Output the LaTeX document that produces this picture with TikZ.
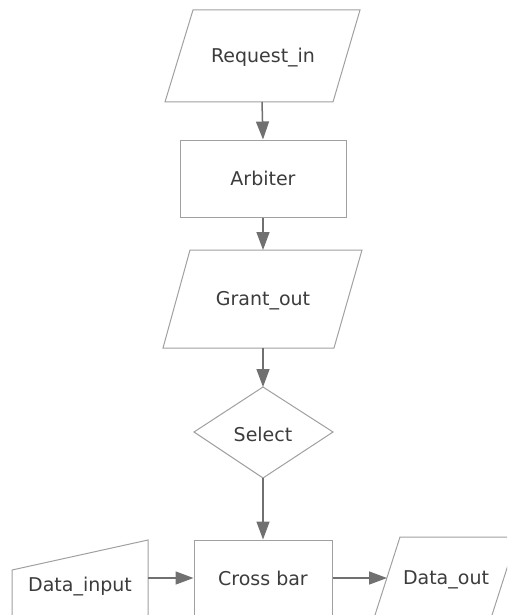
\documentclass[tikz,border=0pt]{standalone}
\usepackage{fontspec}
\setmainfont{DejaVu Sans}
\usetikzlibrary{arrows.meta}
\definecolor{shapegray}{HTML}{A0A0A0}
\definecolor{arrowgray}{HTML}{707070}
\definecolor{textgray}{HTML}{3C3C3C}
\begin{document}
\begin{tikzpicture}[x=1pt,y=-1pt,
  shp/.style={draw=shapegray,line width=1pt,line join=miter},
  lbl/.style={text=textgray,font=\fontsize{19}{22}\selectfont,inner sep=0pt},
  arr/.style={draw=arrowgray,line width=1.5pt,-{Triangle[length=18pt,width=13pt]}}]
\useasboundingbox (0,0) rectangle (507,615);
\clip (0,0) rectangle (507,615);
% Request_in
\draw[shp] (193,10) -- (360,10) -- (333,102) -- (165,102) -- cycle;
\node[lbl] (req) at (263,58) {Request\_in};
\coordinate (reqb) at (262,102);
% Arbiter
\node[shp,lbl,minimum width=166pt,minimum height=77pt] (arb) at (263,178.5) {Arbiter};
% Grant_out
\draw[shp] (190,250) -- (362,250) -- (334,348) -- (163,348) -- cycle;
\node[lbl] (gnt) at (263,301) {Grant\_out};
\coordinate (gntt) at (263,250);
\coordinate (gntb) at (263,348);
% Select
\coordinate (selt) at (263,387);
\coordinate (selb) at (263,478);
\draw[shp] (selt) -- (333,432) -- (selb) -- (194,432) -- cycle;
\node[lbl] (sel) at (263,434) {Select};
% Cross bar
\node[shp,lbl,minimum width=138pt,minimum height=77pt] (cb) at (263,578.5) {Cross bar};
% Data_input
\draw[shp] (12,570) -- (148,540) -- (148,640) -- (12,640) -- cycle;
\node[lbl] (din) at (80,587) {Data\_input};
\coordinate (dinr) at (148,578);
% Data_out
\draw[shp] (400,537) -- (517,537) -- (490.4,620) -- (373.4,620) -- cycle;
\node[lbl] (dout) at (446,580) {Data\_out};
\coordinate (doutl) at (387,578);
% connectors
\draw[arr] (reqb) -- (arb.north);
\draw[arr] (arb.south) -- (gntt);
\draw[arr] (gntb) -- (selt);
\draw[arr] (selb) -- (cb.north);
\draw[arr] (dinr) -- (cb.west |- dinr);
\draw[arr] (cb.east |- doutl) -- (doutl);
\end{tikzpicture}
\end{document}
